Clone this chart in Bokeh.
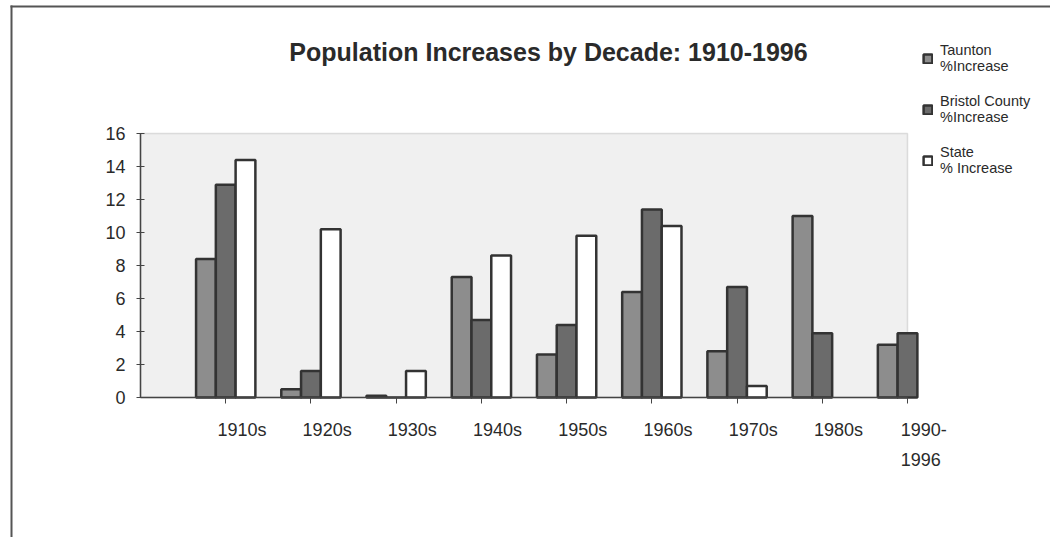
from bokeh.plotting import figure
from bokeh.models import (Range1d, FixedTicker, ColumnDataSource, LabelSet, Label,
                          Legend, LegendItem, BoxAnnotation)
from bokeh.transform import dodge
from bokeh.core.properties import value
from bokeh.embed import file_html
from bokeh.resources import INLINE

# ---------------- data ----------------
categories = ["1910s", "1920s", "1930s", "1940s", "1950s", "1960s", "1970s", "1980s", "1990-\n1996"]
taunton = [8.4, 0.5, 0.1, 7.3, 2.6, 6.4, 2.8, 11.0, 3.2]
bristol = [12.9, 1.6, 0.0, 4.7, 4.4, 11.4, 6.7, 3.9, 3.9]
state = [14.4, 10.2, 1.6, 8.6, 9.8, 10.4, 0.7, float("nan"), float("nan")]
y_ticks = [0, 2, 4, 6, 8, 10, 12, 14, 16]
series_names = ["Taunton\n%Increase", "Bristol County\n%Increase", "State\n% Increase"]
title_text = "Population Increases by Decade: 1910-1996"

# ---------------- layout constants (pixels) ----------------
W, H = 1050, 537
FL, FR, FT, FB = 140, 907, 133, 397      # plot-area box inside the canvas
XMAX, YMAX = 9, 16
FONT = "Liberation Sans"
XS = (FR - FL) / XMAX                   # px per x unit
YS = (FB - FT) / YMAX                   # px per y unit

def dx(px):
    return (px - FL) / XS

def dy(py):
    return (FB - py) / YS

pos = list(range(1, len(categories) + 1))
src = ColumnDataSource(dict(x=pos, taunton=taunton, bristol=bristol, state=state))

# the frame covers the whole canvas; axes are pinned at 0 with fixed_location
p = figure(width=W, height=H, output_backend="svg", toolbar_location=None,
           x_range=Range1d(dx(0), dx(W)), y_range=Range1d(dy(H), dy(0)),
           min_border=0)
p.background_fill_color = "#ffffff"
p.border_fill_color = "#ffffff"
p.outline_line_color = None
p.grid.visible = False

# plot-area background
p.add_layout(BoxAnnotation(left=0, right=XMAX, bottom=0, top=YMAX, level="underlay",
                           fill_color="#f0f0f0", fill_alpha=1,
                           line_color="#9a9a9a", line_width=1.5))

bw = 0.232
r1 = p.vbar(x=dodge("x", -bw, range=p.x_range), top="taunton", width=bw, source=src,
            fill_color="#8d8d8d", line_color="#333333", line_width=2.5)
r2 = p.vbar(x=dodge("x", 0, range=p.x_range), top="bristol", width=bw, source=src,
            fill_color="#6b6b6b", line_color="#333333", line_width=2.5)
r3 = p.vbar(x=dodge("x", bw, range=p.x_range), top="state", width=bw, source=src,
            fill_color="#ffffff", line_color="#333333", line_width=2.5)

# axes
ya = p.yaxis[0]
ya.fixed_location = 0
ya.bounds = (0, YMAX)
ya.ticker = FixedTicker(ticks=y_ticks)
ya.major_label_text_font = FONT
ya.major_label_text_font_size = "18px"
ya.major_label_text_color = "#2a2a2a"
ya.major_tick_in = 4
ya.major_tick_out = 4
ya.minor_tick_line_color = None
ya.axis_line_color = "#444444"
ya.axis_line_width = 1.5
ya.major_tick_line_color = "#444444"
ya.major_label_standoff = 11

xa = p.xaxis[0]
xa.fixed_location = 0
xa.bounds = (0, XMAX)
xa.ticker = FixedTicker(ticks=pos)
xa.major_label_overrides = {i: "" for i in pos}
xa.major_tick_in = 0
xa.major_tick_out = 6
xa.minor_tick_line_color = None
xa.axis_line_color = "#444444"
xa.axis_line_width = 1.5
xa.major_tick_line_color = "#444444"

# category labels (sit a little right of the ticks, as in the original)
lab_src = ColumnDataSource(dict(x=[v + 0.19 for v in pos], y=[dy(419)] * len(pos), text=categories))
p.add_layout(LabelSet(x="x", y="y", text="text", source=lab_src,
                      text_font=value(FONT), text_font_size=value("18px"), text_color="#2a2a2a",
                      text_align="center", text_baseline="top", text_line_height=1.5))

# title
p.add_layout(Label(x=dx(548), y=dy(51), text=title_text, text_font=FONT,
                   text_font_size="25px", text_font_style="bold", text_color="#2a2a2a",
                   text_align="center", text_baseline="middle"))

# legend
legend = Legend(items=[LegendItem(label=series_names[0], renderers=[r1]),
                       LegendItem(label=series_names[1], renderers=[r2]),
                       LegendItem(label=series_names[2], renderers=[r3])],
                location=(922, H - 176), orientation="vertical",
                glyph_width=11, glyph_height=11, label_text_font=FONT,
                label_text_font_size="14.5px", label_text_color="#2a2a2a",
                label_text_line_height=1.1,
                label_standoff=7, spacing=19, padding=0, margin=0,
                border_line_color=None, background_fill_alpha=0)
p.add_layout(legend)

# outer frame of the scanned figure
p.add_layout(BoxAnnotation(left=dx(10), right=dx(12), top=dy(5), bottom=dy(H),
                           fill_color="#555555", fill_alpha=1, line_color=None))
p.add_layout(BoxAnnotation(left=dx(10), right=dx(W), top=dy(5), bottom=dy(7),
                           fill_color="#555555", fill_alpha=1, line_color=None))

open("out.html", "w").write(file_html(p, INLINE))
